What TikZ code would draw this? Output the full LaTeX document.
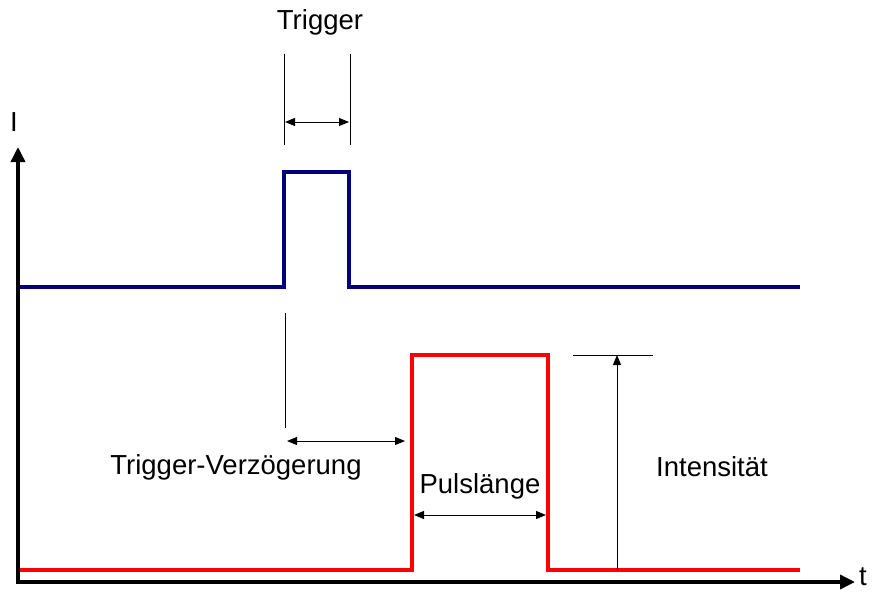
\documentclass[tikz,border=0pt]{standalone}
\usepackage{fontspec}
\setmainfont{Liberation Sans}
\usetikzlibrary{arrows.meta}
\begin{document}
\begin{tikzpicture}[x=1pt,y=-1pt,
  lbl/.style={font=\fontsize{27.5}{32}\selectfont, inner sep=0pt},
  axis/.style={line width=3.5pt, -{Triangle[length=15pt,width=14pt]}},
  dim/.style={line width=1pt, {Triangle[length=10pt,width=8pt]}-{Triangle[length=10pt,width=8pt]}},
  dimone/.style={line width=1pt, -{Triangle[length=10pt,width=8pt]}},
  guide/.style={line width=1pt},
  bluesig/.style={line width=3.5pt, draw={rgb,255:red,0;green,0;blue,128}},
  redsig/.style={line width=4.5pt, draw=red}]
\useasboundingbox (0,0) rectangle (874,591);
% axes
\coordinate (O) at (18,582);
\coordinate (ytip) at (18,147);
\coordinate (xtip) at (855,582);
\draw[axis] (O) -- (ytip);
\draw[axis] ([xshift=-1.75pt]O) -- (xtip);
\node[lbl] (ilbl) at (14,122) {I};
\node[lbl, anchor=west] (tlbl) at (859,577) {t};
% blue trigger signal
\draw[bluesig] (20,287) -- (284,287) -- (284,172) -- (349,172) -- (349,287) -- (800,287);
% red pulse signal
\draw[redsig] (20,570) -- (412,570) -- (412,355) -- (548,355) -- (548,570) -- (800,570);
% Trigger dimension
\node[lbl] (trig) at (320,22) {Trigger};
\coordinate (tl1) at (284,54); \coordinate (tl2) at (284,145);
\coordinate (tr1) at (350,54); \coordinate (tr2) at (350,145);
\draw[guide] (tl1) -- (tl2);
\draw[guide] (tr1) -- (tr2);
\coordinate (ta) at (285,122); \coordinate (tb) at (349,122);
\draw[dim] (ta) -- (tb);
% Trigger delay
\coordinate (d1) at (285,313); \coordinate (d2) at (285,428);
\draw[guide] (d1) -- (d2);
\coordinate (da) at (287,441); \coordinate (db) at (405,441);
\draw[dim] (da) -- (db);
\node[lbl] (delay) at (236,467) {Trigger-Verzögerung};
% pulse length
\node[lbl] (plen) at (480,486) {Pulslänge};
\coordinate (pa) at (414,515); \coordinate (pb) at (546,515);
\draw[dim] (pa) -- (pb);
% intensity
\coordinate (h1) at (573,355); \coordinate (h2) at (653,355);
\draw[guide] (h1) -- (h2);
\coordinate (ia) at (617,570); \coordinate (ib) at (617,355);
\draw[dimone] (ia) -- (ib);
\node[lbl] (int) at (712,467) {Intensität};
\end{tikzpicture}
\end{document}
